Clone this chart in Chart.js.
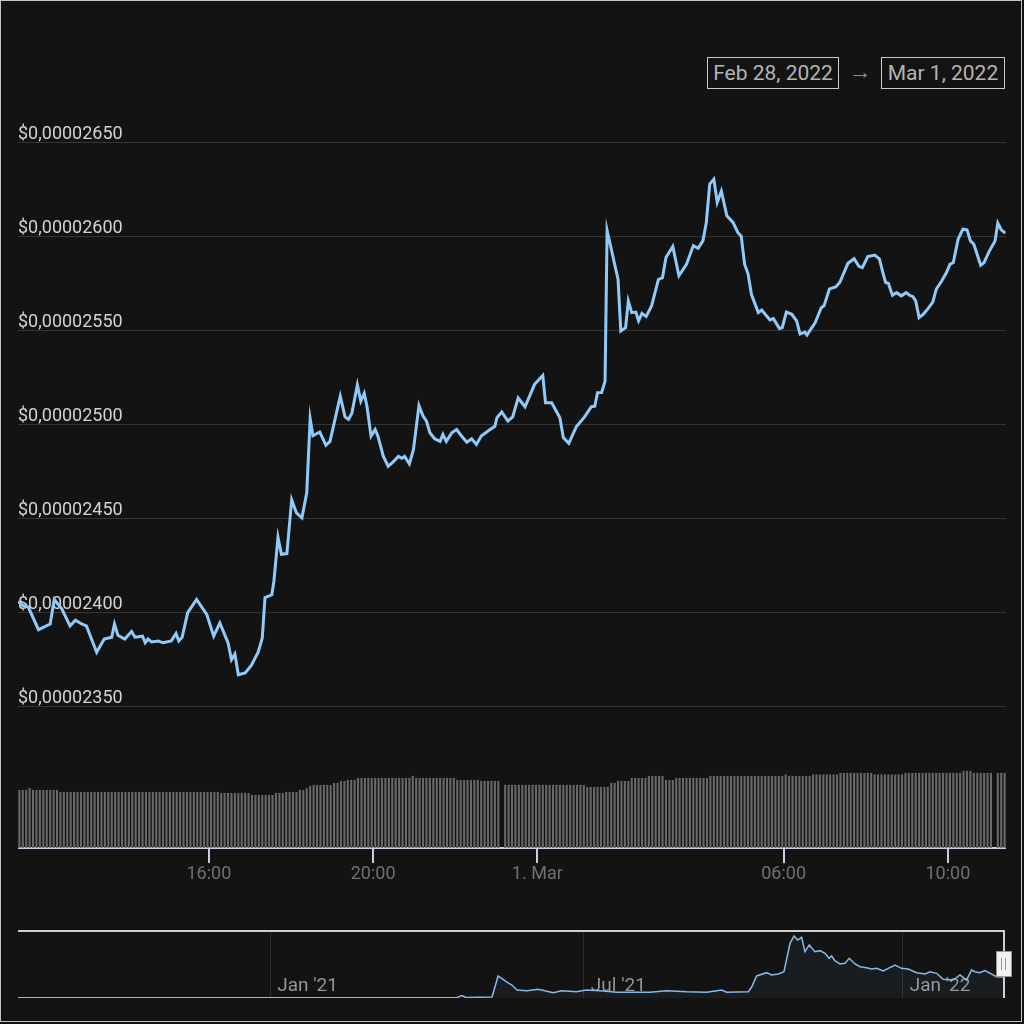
<!DOCTYPE html>
<html>
<head>
<meta charset="utf-8">
<title>Price chart</title>
<script src="https://cdn.jsdelivr.net/npm/chart.js@4.4.1/dist/chart.umd.min.js"></script>
<style>
  html, body { margin: 0; padding: 0; background: #131313; }
  body { width: 1024px; height: 1024px; position: relative; overflow: hidden; font-family: Roboto, "Noto Sans", sans-serif; }
  #frame { position: absolute; left: 0; top: 0; width: 1020px; height: 1020px; border: 1px solid #c4c4c4; }
  .range { position: absolute; top: 57px; height: 32px; box-sizing: border-box; border: 1px solid #c8c8c8;
           color: #b4b4b4; font-size: 21px; line-height: 30px; text-align: center; }
  #arrow { position: absolute; left: 845px; top: 56px; width: 30px; height: 32px; line-height: 32px;
           text-align: center; color: #8c8c8c; font-size: 23px; }
  canvas { position: absolute; }
</style>
</head>
<body>
<div id="frame"></div>
<div class="range" id="from" style="left:707px; width:132px;"></div>
<div id="arrow">→</div>
<div class="range" id="to" style="left:881px; width:124px;"></div>
<canvas id="main" width="988" height="793" style="left:18px; top:95px;"></canvas>
<canvas id="nav" width="1000" height="68" style="left:18px; top:930px;"></canvas>
<script>
// Range shown in the selector boxes
const rangeFrom = 'Feb 28, 2022';
const rangeTo = 'Mar 1, 2022';

// Price line: time in minutes after Feb 28 00:00, price in 1e-8 USD
const priceMin = [
  681, 687, 696, 711, 728, 734, 745, 757, 765, 774, 781, 796, 807, 818, 822, 827,
  837, 847, 852, 863, 867, 871, 876, 886, 893, 905, 912, 916, 921, 929, 942, 957,
  967, 976, 988, 993, 998, 1003, 1013, 1022, 1032, 1038, 1042, 1052, 1055, 1061,
  1066, 1074, 1081, 1088, 1096, 1103, 1108, 1112, 1122, 1131, 1137, 1152, 1159,
  1164, 1169, 1177, 1182, 1187, 1191, 1197, 1203, 1207, 1215, 1222, 1229, 1237,
  1242, 1246, 1253, 1259, 1267, 1273, 1278, 1283, 1290, 1298, 1302, 1307, 1315,
  1322, 1329, 1337, 1344, 1351, 1358, 1370, 1378, 1381, 1388, 1397, 1404, 1412,
  1422, 1436, 1448, 1452, 1461, 1473, 1478, 1486, 1497, 1509, 1519, 1524, 1528,
  1534, 1539, 1542, 1558, 1562, 1569, 1573, 1578, 1584, 1588, 1593, 1599, 1607,
  1617, 1623, 1628, 1638, 1647, 1658, 1668, 1675, 1682, 1687, 1692, 1698, 1703,
  1709, 1717, 1726, 1733, 1738, 1743, 1748, 1753, 1763, 1768, 1780, 1785, 1794,
  1798, 1804, 1812, 1819, 1824, 1831, 1834, 1846, 1855, 1859, 1867, 1876, 1882,
  1894, 1903, 1910, 1915, 1923, 1933, 1940, 1945, 1949, 1953, 1959, 1965, 1972,
  1979, 1984, 1989, 1993, 1998, 2004, 2011, 2018, 2023, 2031, 2038, 2043, 2048,
  2055, 2062, 2068, 2073, 2078, 2088, 2093, 2100, 2109, 2113, 2118, 2124
];
const priceVal = [
  2406, 2404, 2403, 2391, 2394, 2407, 2402, 2393, 2396, 2394, 2393, 2379, 2386, 2387, 2394, 2388,
  2386, 2390, 2387, 2387.5, 2384, 2386, 2384.5, 2385, 2384, 2385, 2389, 2385, 2387, 2400, 2407, 2399,
  2387.5, 2394.5, 2384, 2375, 2378, 2367, 2368, 2372, 2379, 2386.5, 2408, 2409.5, 2416.7, 2440,
  2431, 2431.4, 2460, 2453, 2450.4, 2463.7, 2503, 2494, 2496, 2489, 2491, 2515, 2504,
  2502.7, 2506, 2521, 2512.4, 2516.5, 2509.7, 2493.8, 2497.3, 2493.8, 2483, 2477.8, 2480, 2483,
  2482, 2483, 2479, 2486.7, 2510, 2504.4, 2501.8, 2495.6, 2492.4, 2491, 2494.7, 2491, 2495.6,
  2497.3, 2494, 2490.6, 2492.4, 2489.4, 2493.8, 2497, 2499, 2503.6, 2506.6, 2501.8, 2504, 2514,
  2509.4, 2521.3, 2526, 2511.5, 2511.5, 2503.6, 2493, 2490, 2498.8, 2504, 2509.4, 2509.7, 2516.9,
  2517, 2523, 2603, 2577, 2549.6, 2551.4, 2565.6, 2559.4, 2559.7, 2555, 2559, 2557.3, 2563,
  2577, 2578, 2588.7, 2594.5, 2579, 2585, 2595, 2593.6, 2597.5, 2607.3, 2627.7, 2630.3, 2618,
  2624, 2610.8, 2607.3, 2602, 2600, 2585, 2580, 2569, 2559.4, 2560.8, 2555.5, 2556.2, 2550.9,
  2551.4, 2559.7, 2558.5, 2555, 2548, 2549, 2547.5, 2554, 2562, 2563, 2572, 2573, 2575.4,
  2585.6, 2588, 2584, 2583.3, 2589.2, 2590, 2588, 2580.7, 2575.4, 2575, 2568.6, 2570, 2568.3,
  2570, 2568.6, 2567.9, 2565.6, 2556.8, 2558.5, 2561.5, 2565, 2571.8, 2576.2, 2580.7, 2585, 2586,
  2598.4, 2603.7, 2603.4, 2597.5, 2595.7, 2584.6, 2586, 2591.7, 2597.5, 2607, 2603.4, 2601.6
];

// Volume: one bar every 5 minutes starting 11:23 (relative units, null = no bar)
const volStart = 683;
const volStep = 5;
const volume = [
  58, 58, 58, 60, 58, 58, 58, 58, 58, 58, 58, 58,
  56, 56, 56, 56, 56, 56, 56, 56, 56, 56, 56, 56, 56, 56, 56, 56, 56, 56, 56, 56, 56, 56, 56, 56,
  56, 56, 56, 56, 56, 56, 56, 56, 56, 56, 56, 56, 56, 56, 56, 56, 56, 56, 56, 56, 56, 56, 56,
  55, 55, 55, 55, 55, 55, 55, 55, 55,
  53, 53, 53, 53, 53, 53, 53,
  55, 55, 55, 56, 56, 56, 56, 58, 58, 60, 62,
  63, 63, 63, 63, 63, 63, 65, 65, 67, 67, 68, 68, 68,
  70, 70, 70, 70, 70, 70, 70, 70, 70, 70, 70, 70, 70, 70, 70, 70,
  72,
  70, 70, 70, 70, 70, 70, 70, 70, 70, 70, 70, 70,
  68, 68, 68, 68, 68, 68, 68,
  67, 67, 67, 67, 67, 67,
  null,
  63, 63, 63, 63, 63, 63, 63, 63, 63, 63, 63, 63, 63, 63, 63, 63, 63, 63, 63, 63, 63, 63, 63, 63,
  61, 61, 61, 61, 61, 61, 61,
  65, 65, 67, 67, 67, 67,
  70, 70, 70, 70, 70, 72, 72, 72, 72, 72, 68, 68, 68,
  70, 70, 70, 70, 70, 70, 70, 70, 70, 70,
  72, 72, 72, 72, 72, 72, 72, 72, 72, 72, 72, 72, 72, 72, 72, 72, 72, 72, 72, 72, 72, 72,
  73.5,
  72, 72, 72, 72, 72, 72, 72,
  73.5, 73.5, 73.5, 73.5, 73.5, 73.5, 73.5, 73.5,
  75, 75, 75, 75, 75, 75, 75, 75, 75, 75,
  73.5, 73.5, 73.5, 73.5, 73.5, 73.5, 73.5, 73.5, 73.5,
  75, 75, 75, 75, 75, 75, 75, 75, 75, 75, 75, 75, 75, 75, 75, 75, 75,
  77, 77, 77,
  75, 75, 75, 75, 75, 75,
  null,
  75, 75, 75
];

// Main x axis ticks (minutes after Feb 28 00:00)
const xTickMins = [960, 1200, 1440, 1800, 2040];
const xTickLabels = ['16:00', '20:00', '1. Mar', '06:00', '10:00'];
const priceTicks = [2350, 2400, 2450, 2500, 2550, 2600, 2650];

// Navigator: days after Jan 1 2021, price in 1e-8 USD
const navDays = [
  -145.6, 107.7, 110.6, 113, 128, 131.5, 136.6, 139.5, 142.4, 148.1, 154.7, 163.3, 168.2,
  176.8, 182.2, 190.3, 199.9, 219.2, 228.8, 240.3, 251.9, 260.5, 263.4, 275.9, 277.8, 280.7,
  286.5, 289.4, 293.2, 296.5, 300, 302.3, 304.4, 306.7, 308.6, 311.1, 314.4, 317.3, 320.2,
  322.6, 324, 325.9, 328.8, 331.7, 334.2, 337.5, 340.4, 344.2, 347.1, 350, 353.8, 356.7,
  360.6, 364.4, 368.2, 373.1, 377.9, 380.8, 384.6, 388.4, 394.2, 398.1, 401.9, 404.8, 406.7,
  409.6, 412.5, 419.2, 423.5
];
const navVals = [
  40, 40, 290, 60, 120, 2730, 1980, 1610, 990, 910, 1080, 660, 910,
  780, 990, 910, 710, 710, 910, 780, 710, 990, 710, 780, 1330, 2730,
  3140, 2850, 2980, 3260, 6780, 7690, 7190, 7530, 5740, 6570, 5740, 5870, 5540,
  4920, 5210, 4630, 4220, 4300, 4920, 4220, 3880, 3760, 3600, 3680, 3350, 3680,
  4090, 3680, 3600, 3140, 2980, 3260, 3060, 2320, 2230, 2850, 2230, 3470, 3260,
  3140, 3390, 2640, 2600
];
const navTickDays = [0, 181, 365];
const navTickLabels = ["Jan '21", "Jul '21", "Jan '22"];

document.getElementById('from').textContent = rangeFrom;
document.getElementById('to').textContent = rangeTo;

const FONT = 'Roboto, "Noto Sans", sans-serif';
Chart.defaults.font.family = FONT;
Chart.defaults.animation = false;

// Format 2650 -> "$0,00002650"
function fmtPrice(v) {
  return '$' + (v / 1e8).toFixed(8).replace('.', ',');
}

const lineData = priceMin.map((m, i) => ({ x: m, y: priceVal[i] }));
const volData = volume.map((v, i) => ({ x: volStart + i * volStep, y: v }));

new Chart(document.getElementById('main'), {
  type: 'bar',
  data: {
    datasets: [
      {
        type: 'line',
        data: lineData,
        yAxisID: 'y',
        borderColor: '#90caf9',
        borderWidth: 3,
        pointRadius: 0,
        tension: 0,
        order: 0
      },
      {
        type: 'bar',
        data: volData,
        yAxisID: 'yv',
        backgroundColor: '#686868',
        borderWidth: 0,
        barPercentage: 0.62,
        categoryPercentage: 1,
        order: 1
      }
    ]
  },
  options: {
    responsive: false,
    layout: { padding: 0 },
    plugins: { legend: { display: false }, tooltip: { enabled: false } },
    scales: {
      x: {
        type: 'linear',
        min: 681,
        max: 2125,
        offset: false,
        afterBuildTicks: s => { s.ticks = xTickMins.map(v => ({ value: v })); },
        afterFit: s => { s.height = 40; s.paddingLeft = 0; s.paddingRight = 0; },
        ticks: {
          callback: v => xTickLabels[xTickMins.indexOf(v)],
          color: '#707070',
          font: { size: 18 },
          padding: 1,
          maxRotation: 0
        },
        grid: { offset: false, drawOnChartArea: false, drawTicks: true, tickLength: 15, color: '#c9d1e0', lineWidth: 2 },
        border: { display: true, color: '#c9d1e0', width: 2 }
      },
      y: {
        position: 'left',
        min: 2275,
        max: 2675,
        afterBuildTicks: s => { s.ticks = priceTicks.map(v => ({ value: v })); },
        afterFit: s => { s.width = 0; s.paddingTop = 0; s.paddingBottom = 0; },
        ticks: {
          mirror: true,
          padding: 0,
          labelOffset: -8,
          color: '#d2d2d2',
          font: { size: 18 },
          callback: v => fmtPrice(v)
        },
        grid: { color: '#343434', lineWidth: 1, drawTicks: false },
        border: { display: false }
      },
      yv: {
        display: false,
        min: 0,
        max: 752
      }
    }
  }
});

// Navigator: date labels under the series, outline and handle on top
const navDecor = {
  id: 'navDecor',
  beforeDatasetsDraw(chart) {
    const { ctx, chartArea: a } = chart;
    const xs = chart.scales.x;
    ctx.save();
    ctx.font = '19px ' + FONT;
    ctx.fillStyle = '#959595';
    ctx.textAlign = 'left';
    ctx.textBaseline = 'alphabetic';
    navTickDays.forEach((d, i) => {
      ctx.fillText(navTickLabels[i], xs.getPixelForValue(d) + 7, a.bottom - 7);
    });
    ctx.restore();
  },
  afterDraw(chart) {
    const { ctx, chartArea: a } = chart;
    ctx.save();
    ctx.strokeStyle = '#cfcfcf';
    ctx.lineWidth = 2;
    ctx.beginPath();
    ctx.moveTo(a.left, a.top + 1);
    ctx.lineTo(a.right, a.top + 1);
    ctx.lineTo(a.right, a.bottom);
    ctx.stroke();
    const hx = a.right - 8, hy = a.top + 21;
    ctx.fillStyle = '#f2f2f2';
    ctx.strokeStyle = '#999999';
    ctx.lineWidth = 1;
    ctx.fillRect(hx, hy, 16, 26);
    ctx.strokeRect(hx + 0.5, hy + 0.5, 15, 25);
    ctx.beginPath();
    ctx.moveTo(hx + 5.5, hy + 7);
    ctx.lineTo(hx + 5.5, hy + 19);
    ctx.moveTo(hx + 9.5, hy + 7);
    ctx.lineTo(hx + 9.5, hy + 19);
    ctx.stroke();
    ctx.restore();
  }
};

new Chart(document.getElementById('nav'), {
  type: 'line',
  data: {
    datasets: [{
      data: navDays.map((d, i) => ({ x: d, y: navVals[i] })),
      borderColor: '#88b9e8',
      borderWidth: 1.5,
      backgroundColor: 'rgba(144, 202, 249, 0.06)',
      fill: 'origin',
      pointRadius: 0,
      tension: 0,
      clip: false
    }]
  },
  options: {
    responsive: false,
    layout: { padding: { left: 0, right: 14, top: 0, bottom: 0 } },
    plugins: { legend: { display: false }, tooltip: { enabled: false } },
    scales: {
      x: {
        type: 'linear',
        min: -145.6,
        max: 423.5,
        afterBuildTicks: s => { s.ticks = navTickDays.map(v => ({ value: v })); },
        afterFit: s => { s.height = 0; s.paddingLeft = 0; s.paddingRight = 0; },
        ticks: { display: false },
        grid: { color: '#2c2c2c', lineWidth: 1, drawTicks: false },
        border: { display: false }
      },
      y: { display: false, min: 0, max: 8430 }
    }
  },
  plugins: [navDecor]
});
</script>
</body>
</html>
